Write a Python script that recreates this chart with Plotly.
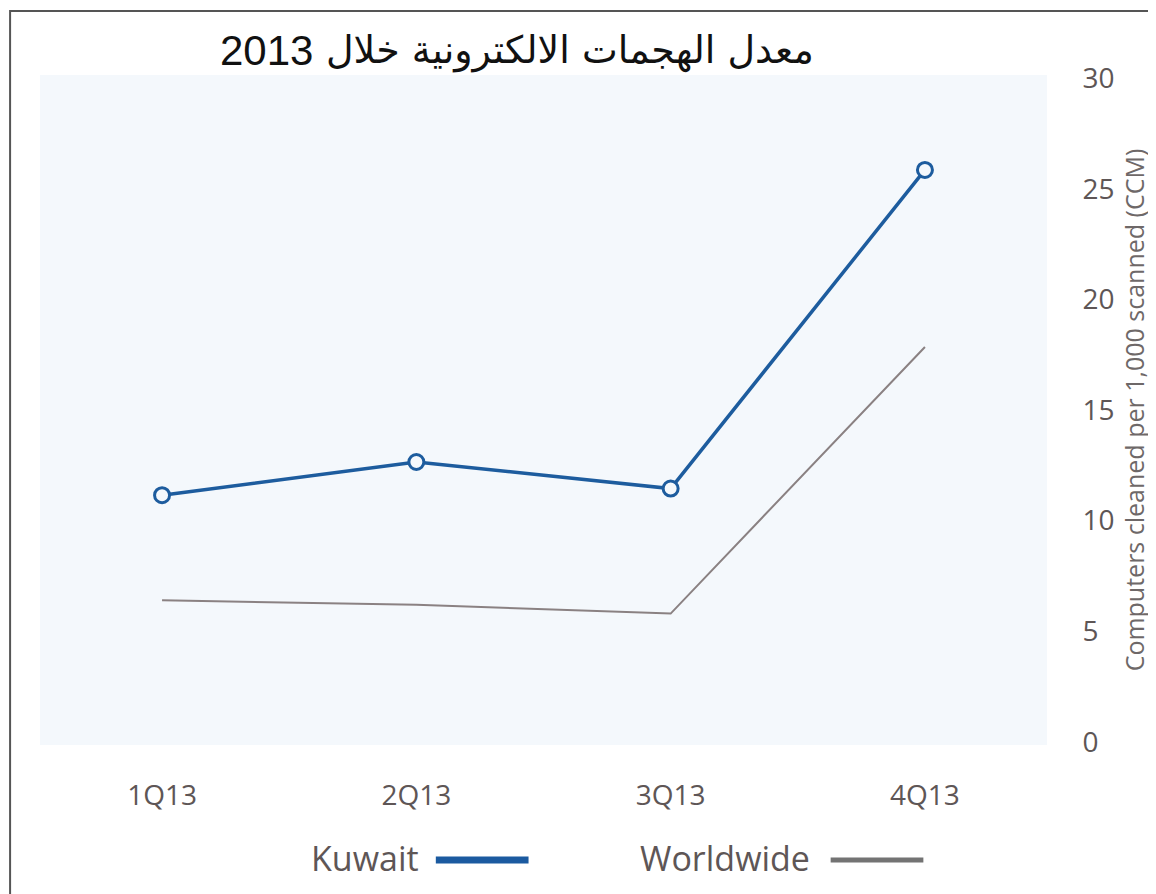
import plotly.graph_objects as go

quarters = ["1Q13", "2Q13", "3Q13", "4Q13"]
kuwait = [11.15, 12.65, 11.45, 25.85]
worldwide = [6.4, 6.2, 5.8, 17.85]
y_ticks = [0, 5, 10, 15, 20, 25, 30]
title_arabic = "معدل الهجمات الالكترونية خلال"
title_year = "2013"
y_title = "Computers cleaned per 1,000 scanned (CCM)"
legend_names = ["Kuwait", "Worldwide"]

W, H = 1148, 886
L, R, T, B = 32, 106, 67, 149
pw, ph = W - L - R, H - T - B

def px(x):
    # page pixel -> paper coordinate (page has 8px body margin)
    return (x - 8 - L) / pw

def py(y):
    return (H - B - (y - 8)) / ph

blue = "#1d5c9e"
gray = "#8a8182"
text_gray = "#5e5656"
sans = "Open Sans, Noto Sans"

fig = go.Figure()
fig.add_trace(go.Scatter(
    x=quarters, y=worldwide, mode="lines", name=legend_names[1],
    line=dict(color=gray, width=2), showlegend=False))
fig.add_trace(go.Scatter(
    x=quarters, y=kuwait, mode="lines+markers", name=legend_names[0],
    line=dict(color=blue, width=3.5),
    marker=dict(symbol="circle", size=15, color="#f4f8fc",
                line=dict(color=blue, width=3)),
    showlegend=False))

shapes = [
    dict(type="rect", xref="paper", yref="paper",
         x0=px(10), x1=px(1154), y0=py(905), y1=py(11),
         line=dict(color="#555555", width=2), layer="above"),
    dict(type="line", xref="paper", yref="paper",
         x0=px(437), x1=px(530), y0=py(860), y1=py(860),
         line=dict(color="#1b5aa0", width=7)),
    dict(type="line", xref="paper", yref="paper",
         x0=px(833), x1=px(926), y0=py(860), y1=py(860),
         line=dict(color="#737373", width=5)),
]

annotations = [
    dict(text=title_arabic, xref="paper", yref="paper",
         x=px(818), y=py(50), xanchor="right", yanchor="middle",
         showarrow=False,
         font=dict(family="DejaVu Sans, Liberation Sans", size=38, color="#111111")),
    dict(text=title_year, xref="paper", yref="paper",
         x=px(219), y=py(50), xanchor="left", yanchor="middle",
         showarrow=False,
         font=dict(family="Liberation Sans, Arial", size=42, color="#111111")),
    dict(text=legend_names[0], xref="paper", yref="paper",
         x=px(422), y=py(858), xanchor="right", yanchor="middle",
         showarrow=False,
         font=dict(family=sans, size=34, color=text_gray)),
    dict(text=legend_names[1], xref="paper", yref="paper",
         x=px(814), y=py(858), xanchor="right", yanchor="middle",
         showarrow=False,
         font=dict(family=sans, size=34, color=text_gray)),
]

fig.update_layout(
    width=W, height=H,
    margin=dict(l=L, r=R, t=T, b=B, pad=0),
    paper_bgcolor="white",
    plot_bgcolor="#f4f8fc",
    shapes=shapes,
    annotations=annotations,
    showlegend=False,
    xaxis=dict(
        type="category", range=[-0.48, 3.48],
        showgrid=False, zeroline=False, showline=False,
        ticks="outside", ticklen=25, tickcolor="rgba(0,0,0,0)",
        tickfont=dict(family=sans, size=28, color=text_gray),
    ),
    yaxis=dict(
        side="right", range=[-0.14, 30.14],
        tickvals=y_ticks,
        showgrid=False, zeroline=False, showline=False,
        ticks="outside", ticklen=29, tickcolor="rgba(0,0,0,0)",
        tickfont=dict(family=sans, size=28, color=text_gray),
        title=dict(text=y_title, standoff=12,
                   font=dict(family=sans, size=25, color="#6e6868")),
    ),
)

fig.write_html("out.html")
